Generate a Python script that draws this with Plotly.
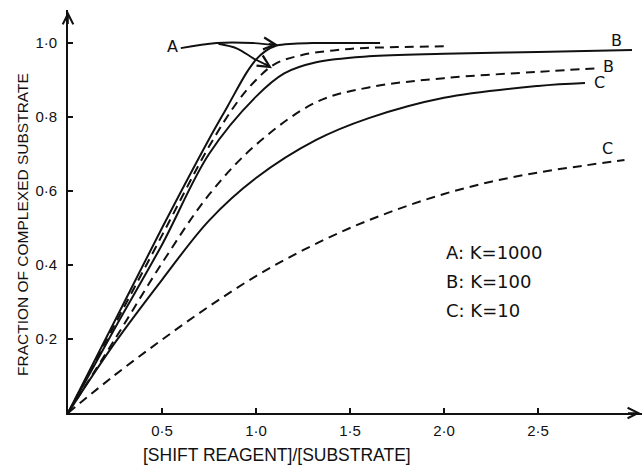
import plotly.graph_objects as go

# ---- data ----
a_solid_x = [0, 0.25, 0.5, 0.75, 0.85, 0.95, 1.0, 1.05, 1.11, 1.2, 1.3, 1.45, 1.66]
a_solid_y = [0, 0.25, 0.5, 0.74, 0.83, 0.92, 0.955, 0.978, 0.993, 0.998, 1.0, 1.0, 1.0]

a_dash_x = [0, 0.25, 0.5, 0.75, 0.9, 1.0, 1.1, 1.25, 1.5, 1.75, 2.02]
a_dash_y = [0, 0.24, 0.48, 0.72, 0.84, 0.9, 0.943, 0.968, 0.984, 0.989, 0.991]

b_solid_x = [0, 0.25, 0.5, 0.75, 1.0, 1.15, 1.32, 1.6, 2.0, 2.5, 3.0]
b_solid_y = [0, 0.23, 0.455, 0.7, 0.855, 0.918, 0.948, 0.964, 0.971, 0.976, 0.981]

b_dash_x = [0, 0.25, 0.5, 0.75, 1.0, 1.32, 1.6, 2.0, 2.5, 2.82]
b_dash_y = [0, 0.2, 0.405, 0.59, 0.725, 0.84, 0.88, 0.905, 0.922, 0.932]

c_solid_x = [0, 0.25, 0.5, 0.75, 1.0, 1.32, 1.6, 2.0, 2.5, 2.75]
c_solid_y = [0, 0.19, 0.36, 0.52, 0.635, 0.738, 0.797, 0.852, 0.884, 0.892]

c_dash_x = [0, 0.25, 0.5, 0.75, 1.0, 1.25, 1.5, 1.75, 2.0, 2.25, 2.5, 2.75, 2.96]
c_dash_y = [0, 0.103, 0.198, 0.288, 0.37, 0.44, 0.5, 0.55, 0.592, 0.625, 0.65, 0.669, 0.684]

x_tickvals = [0.5, 1.0, 1.5, 2.0, 2.5]
x_ticktext = ["0·5", "1·0", "1·5", "2·0", "2·5"]
y_tickvals = [0.2, 0.4, 0.6, 0.8, 1.0]
y_ticktext = ["0·2", "0·4", "0·6", "0·8", "1·0"]

key_lines = ["A: K=1000", "B: K=100", "C: K=10"]

FONT = "Liberation Sans"
KEYFONT = "DejaVu Sans"
INK = "#111111"

W, H = 642, 471
L, R, T, B = 68, 0, 10, 58

fig = go.Figure()

def add(x, y, dash):
    fig.add_trace(go.Scatter(x=x, y=y, mode="lines", line_shape="spline",
                             line=dict(color=INK, width=2, dash=dash),
                             hoverinfo="skip", showlegend=False))

add(a_solid_x, a_solid_y, "solid")
add(a_dash_x, a_dash_y, "9px,6px")
add(b_solid_x, b_solid_y, "solid")
add(b_dash_x, b_dash_y, "9px,6px")
add(c_solid_x, c_solid_y, "solid")
add(c_dash_x, c_dash_y, "9px,6px")

# curved pointer lines from the "A" label
fig.add_trace(go.Scatter(x=[0.6, 0.79, 0.98, 1.09], y=[0.986, 1.0, 1.0, 0.995],
                         mode="lines", line_shape="spline",
                         line=dict(color=INK, width=1.8), hoverinfo="skip", showlegend=False))
fig.add_trace(go.Scatter(x=[0.8, 0.9, 0.99, 1.06], y=[0.998, 0.985, 0.957, 0.94],
                         mode="lines", line_shape="spline",
                         line=dict(color=INK, width=1.8), hoverinfo="skip", showlegend=False))

ann = []
# arrow heads of pointers
ann.append(dict(x=1.117, y=0.995, ax=1.06, ay=0.998, xref="x", yref="y", axref="x", ayref="y",
                showarrow=True, arrowhead=5, arrowsize=1.3, arrowwidth=1.8, arrowcolor=INK, text=""))
ann.append(dict(x=1.085, y=0.932, ax=1.04, ay=0.946, xref="x", yref="y", axref="x", ayref="y",
                showarrow=True, arrowhead=5, arrowsize=1.3, arrowwidth=1.8, arrowcolor=INK, text=""))
# axis arrow heads
ann.append(dict(x=3.045, y=0, ax=-14, ay=0, xref="x", yref="y",
                showarrow=True, arrowhead=5, arrowsize=1.3, arrowwidth=1.6, arrowcolor=INK, text=""))
ann.append(dict(x=0, y=1.085, ax=0, ay=14, xref="x", yref="y",
                showarrow=True, arrowhead=5, arrowsize=1.3, arrowwidth=1.6, arrowcolor=INK, text=""))

# curve labels
tf = dict(family=KEYFONT, size=16, color=INK)
ann.append(dict(x=0.555, y=0.99, text="A", showarrow=False, font=tf, xref="x", yref="y"))
ann.append(dict(x=2.92, y=1.008, text="B", showarrow=False, font=tf, xref="x", yref="y"))
ann.append(dict(x=2.875, y=0.936, text="B", showarrow=False, font=tf, xref="x", yref="y"))
ann.append(dict(x=2.825, y=0.893, text="C", showarrow=False, font=tf, xref="x", yref="y"))
ann.append(dict(x=2.87, y=0.714, text="C", showarrow=False, font=tf, xref="x", yref="y"))

# key
for i, t in enumerate(key_lines):
    ann.append(dict(x=2.0, y=0.435 - i * 0.079, text=t, showarrow=False, xanchor="left",
                    yanchor="middle", font=dict(family=KEYFONT, size=18, color=INK),
                    xref="x", yref="y"))

# axis titles (positioned in pixels -> paper)
ann.append(dict(x=(277 - L) / (W - L - R), y=(H - 455 - B) / (H - T - B),
                xref="paper", yref="paper", xanchor="center", yanchor="middle",
                text="[SHIFT REAGENT]/[SUBSTRATE]",
                showarrow=False, font=dict(family=FONT, size=17.5, color=INK)))
ann.append(dict(x=(22 - L) / (W - L - R), y=(H - 225 - B) / (H - T - B),
                xref="paper", yref="paper", xanchor="center", yanchor="middle",
                text="FRACTION OF COMPLEXED SUBSTRATE", textangle=-90,
                showarrow=False, font=dict(family=FONT, size=15.5, color=INK)))

fig.update_layout(
    width=W, height=H,
    margin=dict(l=L, r=R, t=T, b=B),
    paper_bgcolor="white", plot_bgcolor="white",
    font=dict(family=FONT, size=15, color=INK),
    annotations=ann,
    xaxis=dict(range=[0, (W - L - R) / 188], showgrid=False, zeroline=False,
               showline=True, linecolor=INK, linewidth=1.6,
               tickvals=x_tickvals, ticktext=x_ticktext, ticks="inside", ticklen=5,
               tickcolor=INK, tickwidth=1.6, tickfont=dict(family=FONT, size=15, color=INK),
               ticklabelstandoff=3),
    yaxis=dict(range=[0, (H - T - B) / 370], showgrid=False, zeroline=False,
               showline=True, linecolor=INK, linewidth=1.6,
               tickvals=y_tickvals, ticktext=y_ticktext, ticks="inside", ticklen=5,
               tickcolor=INK, tickwidth=1.6, tickfont=dict(family=FONT, size=15, color=INK),
               ticklabelstandoff=6),
)

fig.write_html("out.html")
